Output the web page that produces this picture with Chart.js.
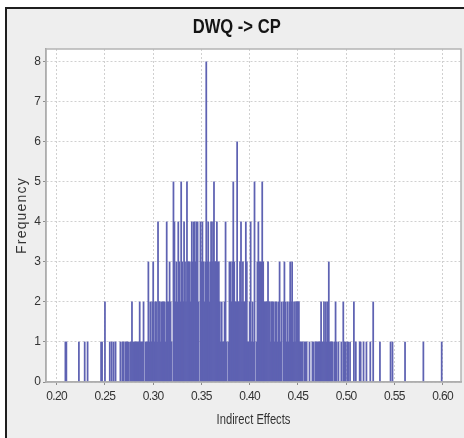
<!DOCTYPE html>
<html>
<head>
<meta charset="utf-8">
<script src="https://cdn.jsdelivr.net/npm/chart.js@4.4.1/dist/chart.umd.min.js"></script>
<style>
  html, body { margin: 0; padding: 0; background: #ffffff; }
  canvas { display: block; }
</style>
</head>
<body>
<canvas id="c" width="464" height="438"></canvas>
<script>
// Bin values of the indirect effect (x) and their frequencies (y)
const effects = [
  0.209, 0.210, 0.223, 0.229, 0.232, 0.246, 0.247, 0.250, 0.255, 0.257, 0.259, 0.261,
  0.266, 0.268, 0.269, 0.271, 0.272, 0.273, 0.274, 0.276,
  0.277, 0.278, 0.279, 0.280, 0.281, 0.282, 0.283, 0.284, 0.285, 0.286,
  0.287, 0.288, 0.289, 0.290, 0.292, 0.293, 0.294, 0.295, 0.296, 0.297,
  0.298, 0.299, 0.300, 0.301, 0.302, 0.303, 0.304, 0.305, 0.306, 0.307,
  0.308, 0.309, 0.310, 0.311, 0.312, 0.313, 0.314, 0.315, 0.316, 0.317,
  0.318, 0.319, 0.321, 0.322, 0.323, 0.324, 0.325, 0.326, 0.327, 0.328,
  0.329, 0.330, 0.331, 0.332, 0.333, 0.334, 0.335, 0.336, 0.337, 0.338,
  0.339, 0.340, 0.341, 0.342, 0.343, 0.344, 0.345, 0.346, 0.347, 0.349,
  0.350, 0.351, 0.352, 0.353, 0.354, 0.355, 0.356, 0.357, 0.358, 0.359,
  0.360, 0.361, 0.362, 0.363, 0.364, 0.365, 0.366, 0.367, 0.368, 0.369,
  0.370, 0.371, 0.372, 0.373, 0.374, 0.375, 0.376, 0.378, 0.379, 0.380,
  0.381, 0.382, 0.383, 0.384, 0.385, 0.386, 0.387, 0.388, 0.389, 0.390,
  0.391, 0.392, 0.393, 0.394, 0.395, 0.396, 0.397, 0.398, 0.399, 0.400,
  0.401, 0.402, 0.403, 0.404, 0.405, 0.407, 0.408, 0.409, 0.410, 0.411,
  0.412, 0.413, 0.414, 0.415, 0.416, 0.417, 0.418, 0.419, 0.420, 0.421,
  0.422, 0.423, 0.424, 0.425, 0.426, 0.427, 0.428, 0.429, 0.430, 0.431,
  0.432, 0.433, 0.435, 0.436, 0.437, 0.438, 0.439, 0.440, 0.441, 0.442,
  0.443, 0.444, 0.445, 0.446, 0.447, 0.448, 0.449, 0.450, 0.451, 0.452,
  0.453, 0.454, 0.455, 0.457, 0.458, 0.459, 0.462, 0.465, 0.466, 0.468, 0.469, 0.470,
  0.471, 0.472, 0.473, 0.474, 0.475, 0.476, 0.477, 0.478, 0.479, 0.480, 0.481, 0.482,
  0.483, 0.484, 0.485, 0.486, 0.488, 0.489, 0.490, 0.492,
  0.495, 0.497, 0.498, 0.499, 0.501, 0.502,
  0.504, 0.508, 0.510, 0.514, 0.515, 0.518, 0.521,
  0.525, 0.528, 0.535, 0.546, 0.548, 0.561, 0.580, 0.599
];
const frequencies = [
  1, 1, 1, 1, 1, 1, 1, 2, 1, 1, 1, 1,
  1, 1, 1, 1, 1, 1, 1, 1,
  1, 2, 1, 1, 1, 1, 1, 1, 1, 2,
  1, 1, 1, 2, 1, 1, 1, 3, 1, 2,
  1, 2, 3, 1, 2, 2, 1, 4, 2, 2,
  1, 2, 2, 2, 2, 1, 4, 2, 2, 3,
  2, 1, 5, 4, 2, 3, 2, 4, 3, 2,
  5, 3, 2, 4, 3, 2, 5, 3, 3, 3,
  2, 4, 3, 4, 4, 3, 4, 4, 2, 4,
  3, 4, 3, 2, 3, 8, 3, 4, 2, 3,
  4, 3, 4, 5, 3, 3, 4, 3, 3, 2,
  1, 2, 1, 1, 2, 4, 1, 1, 3, 3,
  2, 3, 5, 3, 2, 2, 6, 2, 2, 3,
  4, 2, 3, 2, 2, 4, 3, 1, 1, 2,
  4, 1, 2, 1, 5, 1, 3, 4, 3, 3,
  3, 5, 3, 2, 2, 2, 2, 3, 2, 2,
  1, 2, 2, 2, 1, 2, 2, 1, 2, 3,
  1, 2, 2, 3, 2, 1, 2, 1, 2, 3,
  2, 3, 1, 2, 1, 2, 2, 2, 2, 1,
  1, 1, 1, 1, 1, 1, 1, 1, 1, 1, 1, 1,
  1, 1, 1, 2, 1, 1, 2, 1, 2, 1, 2, 3,
  1, 1, 1, 1, 1, 2, 1, 1,
  1, 2, 1, 1, 1, 1,
  1, 2, 1, 1, 1, 1, 1,
  1, 2, 1, 1, 1, 1, 1, 1
];
const xTickValues = [0.20, 0.25, 0.30, 0.35, 0.40, 0.45, 0.50, 0.55, 0.60];
const yTickValues = [0, 1, 2, 3, 4, 5, 6, 7, 8];

const FONT = "'Liberation Sans', Arial, sans-serif";

const points = effects.map((x, i) => ({ x: x, y: frequencies[i] }));

// squeeze a centred text horizontally (narrow-font look)
function squeezed(obj, fnName, factor, shift, spacing) {
  if (!obj || obj['_sq_' + fnName]) return;
  const orig = obj[fnName].bind(obj);
  obj[fnName] = function (...args) {
    const c = this.ctx;
    const cx = (this.left + this.right) / 2;
    c.save();
    if (spacing) c.letterSpacing = spacing;
    c.translate(cx + shift, 0);
    c.scale(factor, 1);
    c.translate(-cx, 0);
    orig(...args);
    c.restore();
  };
  obj['_sq_' + fnName] = true;
}

const framePlugin = {
  id: 'frame',
  afterLayout(chart) {
    squeezed(chart.titleBlock, 'draw', 0.83, 2.2, null);
    squeezed(chart.scales.x, 'drawTitle', 0.8, 0, null);
    squeezed(chart.scales.x, 'drawLabels', 1, 0, '-0.6px');
    squeezed(chart.scales.y, 'drawTitle', 1, 0, '1.2px');
  },
  beforeDraw(chart) {
    const { ctx, width, height, chartArea: a } = chart;
    ctx.save();
    ctx.fillStyle = '#ffffff';
    ctx.fillRect(0, 0, width, height);
    ctx.fillStyle = '#eeeeee';
    ctx.fillRect(6, 8, width - 6, height - 8);
    ctx.strokeStyle = '#1e1e1e';
    ctx.lineWidth = 2;
    ctx.beginPath();
    ctx.moveTo(6, height);
    ctx.lineTo(6, 8);
    ctx.lineTo(width, 8);
    ctx.stroke();
    ctx.fillStyle = '#ffffff';
    ctx.fillRect(a.left, a.top, a.right - a.left, a.bottom - a.top);
    ctx.restore();
  },
  afterDraw(chart) {
    const { ctx, chartArea: a } = chart;
    ctx.save();
    ctx.strokeStyle = '#b4b4b4';
    ctx.lineWidth = 1.5;
    ctx.strokeRect(a.left, a.top, a.right - a.left, a.bottom - a.top);
    ctx.restore();
  }
};

new Chart(document.getElementById('c'), {
  type: 'bar',
  data: {
    datasets: [{
      data: points,
      backgroundColor: 'rgb(94, 98, 178)',
      borderWidth: 0,
      barThickness: 1.1,
      grouped: false
    }]
  },
  options: {
    responsive: false,
    animation: false,
    devicePixelRatio: 1,
    layout: { padding: { left: 8, right: 3, top: 0, bottom: 0 } },
    plugins: {
      legend: { display: false },
      tooltip: { enabled: false },
      title: {
        display: true,
        text: 'DWQ -> CP',
        color: '#141414',
        font: { family: FONT, size: 20, weight: 'bold' },
        padding: { top: 15, bottom: 10 }
      }
    },
    scales: {
      x: {
        type: 'linear',
        offset: false,
        min: 0.1889,
        max: 0.619,
        afterFit(scale) { scale.height = 56; },
        afterBuildTicks(scale) { scale.ticks = xTickValues.map(v => ({ value: v })); },
        ticks: {
          includeBounds: false,
          autoSkip: false,
          maxRotation: 0,
          padding: 4,
          color: '#333333',
          font: { family: FONT, size: 12 },
          callback: (v) => Number(v).toFixed(2)
        },
        grid: {
          offset: false,
          color: '#d0d0d0',
          lineWidth: 1,
          drawTicks: true,
          tickLength: 3,
          tickColor: '#8c8c8c',
          tickWidth: 1
        },
        border: { display: true, color: '#9a9a9a', width: 1.5, dash: [2, 2] },
        title: {
          display: true,
          text: 'Indirect Effects',
          color: '#333333',
          font: { family: FONT, size: 14 },
          padding: { top: 0, bottom: 9 }
        }
      },
      y: {
        type: 'linear',
        min: 0,
        max: 8.32,
        afterFit(scale) { scale.width = 38; },
        afterBuildTicks(scale) { scale.ticks = yTickValues.map(v => ({ value: v })); },
        ticks: {
          includeBounds: false,
          padding: 2,
          color: '#333333',
          font: { family: FONT, size: 12 }
        },
        grid: {
          color: '#d0d0d0',
          lineWidth: 1,
          drawTicks: true,
          tickLength: 3,
          tickColor: '#8c8c8c',
          tickWidth: 1
        },
        border: { display: true, color: '#9a9a9a', width: 1.5, dash: [2, 2] },
        title: {
          display: true,
          text: 'Frequency',
          color: '#333333',
          font: { family: FONT, size: 14 },
          padding: { top: 6, bottom: 0 }
        }
      }
    }
  },
  plugins: [framePlugin]
});
</script>
</body>
</html>
